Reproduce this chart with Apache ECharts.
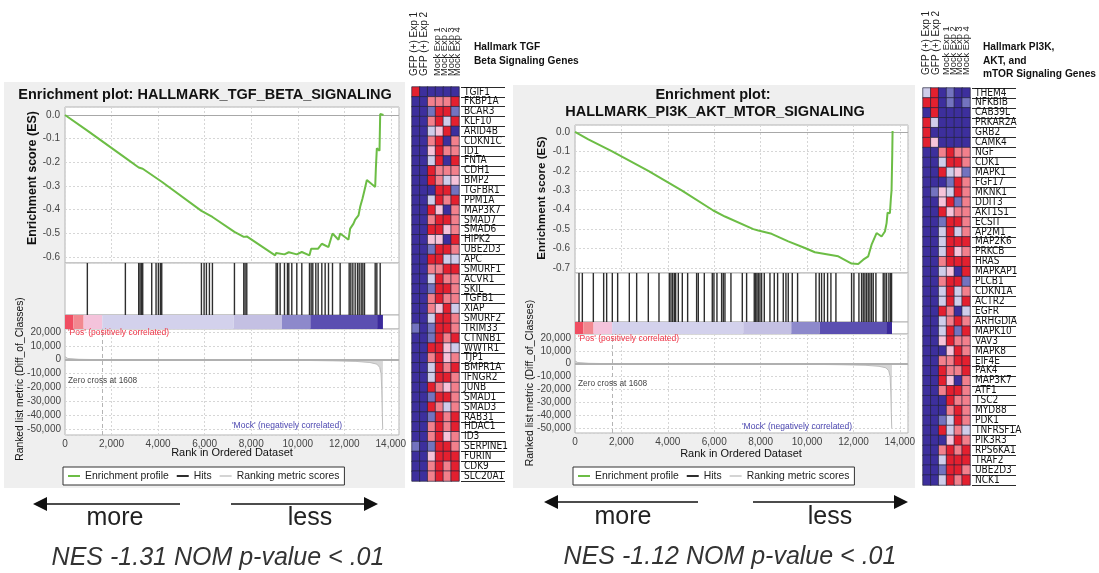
<!DOCTYPE html>
<html>
<head>
<meta charset="utf-8">
<script src="https://cdn.jsdelivr.net/npm/echarts@6.0.0/dist/echarts.min.js"></script>
<style>
html, body { margin: 0; padding: 0; background: #fff; }
#main { width: 1099px; height: 573px; }
</style>
</head>
<body>
<div id="main"></div>
<script>
// ---- data ----
const RANK_MAX = 14350
const ZERO_CROSS = 1608

// running enrichment score, TGF beta set
const esRankTgf = [0, 960, 975, 2594, 2610, 3167, 3339, 4156, 5861, 6334, 7280, 7300, 7681, 7810, 9028, 9071, 9429, 9615, 9959, 10174, 10504, 10576, 10876, 11034, 11321, 11493, 11750, 11822, 12180, 12252, 12395, 12467, 12610, 12682, 12782, 12868, 12969, 13327, 13356, 13398, 13513, 13542, 13685]
const esValTgf = [0, -0.066, -0.062, -0.181, -0.177, -0.222, -0.227, -0.282, -0.405, -0.431, -0.494, -0.488, -0.515, -0.513, -0.593, -0.583, -0.589, -0.58, -0.589, -0.579, -0.593, -0.565, -0.565, -0.544, -0.558, -0.501, -0.527, -0.501, -0.527, -0.48, -0.459, -0.442, -0.424, -0.388, -0.353, -0.318, -0.275, -0.304, -0.226, -0.141, -0.151, 0.004, 0]
const hitsTgf = [960, 2594, 3167, 3224, 3282, 3339, 3726, 3912, 4012, 4098, 4156, 5861, 5976, 6076, 6205, 6334, 7280, 7681, 7738, 7810, 9071, 9128, 9243, 9429, 9558, 9615, 9744, 9959, 10174, 10504, 10576, 10647, 10776, 10876, 11034, 11177, 11321, 11493, 11822, 12209, 12281, 12367, 12467, 12567, 12639, 12725, 12797, 12868, 13327, 13398, 13542]

// running enrichment score, PI3K/AKT/mTOR set
const esRankPi3k = [0, 574, 1580, 3159, 4595, 5959, 6462, 7683, 7898, 8472, 9190, 9908, 10339, 11344, 11919, 12206, 12421, 12637, 12780, 12996, 13211, 13283, 13355, 13427, 13470, 13570, 13613, 13642, 13671, 13685]
const esValPi3k = [0, -0.038, -0.099, -0.2, -0.3, -0.404, -0.435, -0.5, -0.507, -0.524, -0.563, -0.597, -0.619, -0.64, -0.677, -0.679, -0.657, -0.64, -0.58, -0.52, -0.538, -0.541, -0.512, -0.469, -0.415, -0.418, -0.341, -0.299, -0.119, 0.005]
const hitsPi3k = [172, 316, 790, 1235, 1364, 1608, 1838, 2341, 2657, 3159, 3619, 4064, 4136, 4207, 4279, 4337, 4452, 4624, 4854, 5241, 5313, 5572, 5916, 5988, 6117, 6318, 6390, 6462, 6720, 7209, 7395, 7725, 7783, 7840, 7898, 7970, 8042, 8157, 8401, 8587, 8731, 8975, 9090, 9190, 9363, 9592, 10382, 10526, 10626, 10741, 10885, 11028, 11244, 11919, 12019, 12235, 12350, 12421, 12493, 12565, 12637, 12709, 12780, 12852, 12967, 13283, 13355, 13427, 13527, 13599, 13642]

// ranked list metric (same ranked list for both sets)
const metricRank = [0, 120, 600, 1608, 5000, 10300, 11500, 12500, 13100, 13400, 13520, 13580, 13610, 13630, 13650, 13660]
const metricVal = [2200, 900, 300, 0, -100, -500, -800, -1200, -2000, -3200, -5500, -10000, -22000, -38000, -50000, -50000]

// correlation colour bar under the hits
const segStart = [0, 360, 800, 1600, 7250, 9320, 10540, 13410]
const segEnd = [360, 800, 1600, 7250, 9320, 10540, 13410, 13660]

// heatmaps: -3 dark blue ... 3 red
const samples = ['GFP (+) Exp 1', 'GFP (+) Exp 2', 'Mock Exp 1', 'Mock Exp 2', 'Mock Exp 3', 'Mock Exp 4']
const genesTgf = ['TGIF1', 'FKBP1A', 'BCAR3', 'KLF10', 'ARID4B', 'CDKN1C', 'ID1', 'FNTA', 'CDH1', 'BMP2', 'TGFBR1', 'PPM1A', 'MAP3K7', 'SMAD7', 'SMAD6', 'HIPK2', 'UBE2D3', 'APC', 'SMURF1', 'ACVR1', 'SKIL', 'TGFB1', 'XIAP', 'SMURF2', 'TRIM33', 'CTNNB1', 'WWTR1', 'TJP1', 'BMPR1A', 'IFNGR2', 'JUNB', 'SMAD1', 'SMAD3', 'RAB31', 'HDAC1', 'ID3', 'SERPINE1', 'FURIN', 'CDK9', 'SLC20A1']
const exprTgf = [
  [3, -3, -3, -3, -3, -3], [-3, -3, 2, 2, 2, 3], [-3, -3, -2, 3, 3, -2], [-3, -3, 2, 3, -1, 3],
  [-3, -3, -1, 1, 3, -3], [-3, -3, 2, 3, -3, 2], [-3, -3, 1, 3, 2, 2], [-3, -3, -1, 3, -3, 3],
  [-3, -3, 3, 2, 2, 2], [-3, -3, 3, 2, -1, 1], [-3, -3, -3, 3, 3, -2], [-3, -3, -1, 3, 2, 3],
  [-3, -3, 3, 1, -3, 2], [-3, -3, 2, 3, 3, 2], [-3, -3, 3, 3, 1, 2], [-3, -3, 1, 1, -3, 3],
  [-3, -3, -2, 3, 3, 2], [-3, -3, 3, 3, -1, -1], [-3, -3, 2, 2, 3, 3], [-3, -3, -1, 3, 2, 2],
  [-3, -3, -2, 3, 3, 2], [-3, -3, 2, 3, 2, 2], [-3, -3, 2, 1, 3, -1], [-3, -3, -1, 3, 3, 2],
  [-2, -3, -2, 3, 3, 2], [-3, -3, -2, 3, 2, 3], [-3, -3, 3, 3, 1, -1], [-3, -3, 2, 3, 1, 2],
  [-3, -3, -1, 3, 2, 3], [-3, -3, -1, 3, 3, 2], [-3, -3, 3, 2, 1, 2], [-3, -3, -2, 3, 3, 2],
  [-3, -3, 3, 2, -1, 2], [-3, -3, -2, 3, 2, 3], [-3, -3, 2, 3, 2, 3], [-3, -3, 2, 3, 1, 2],
  [-2, -3, -2, 3, 3, 2], [-3, -3, 1, 3, 3, 3], [-3, -3, 2, 3, 2, 3], [-3, -3, 2, 3, 2, 3]
]
const genesPi3k = ['THEM4', 'NFKBIB', 'CAB39L', 'PRKAR2A', 'GRB2', 'CAMK4', 'NGF', 'CDK1', 'MAPK1', 'FGF17', 'MKNK1', 'DDIT3', 'AKT1S1', 'ECSIT', 'AP2M1', 'MAP2K6', 'PRKCB', 'HRAS', 'MAPKAP1', 'PLCB1', 'CDKN1A', 'ACTR2', 'EGFR', 'ARHGDIA', 'MAPK10', 'VAV3', 'MAPK8', 'EIF4E', 'PAK4', 'MAP3K7', 'ATF1', 'TSC2', 'MYD88', 'PDK1', 'TNFRSF1A', 'PIK3R3', 'RPS6KA1', 'TRAF2', 'UBE2D3', 'NCK1']
const exprPi3k = [
  [-1, 3, -3, -2, -3, -3], [3, 3, -3, -2, -3, -2], [-3, 3, -3, -3, -3, -3], [3, -1, -3, -3, -3, -3],
  [3, -3, -3, -3, -3, -3], [3, 1, -3, -3, -3, -3], [-3, -3, 2, 3, 2, 2], [-3, -3, -1, 3, 3, 2],
  [-3, -3, 3, -1, 1, -2], [-3, -3, -3, -2, 3, 2], [-3, -2, 1, -1, 3, 2], [-3, -3, 1, 3, -2, 2],
  [-3, -3, 3, 1, 2, 2], [-3, -3, -2, 3, 3, 2], [-3, -3, -1, 3, -1, 2], [-3, -3, -1, 3, 3, 3],
  [-3, -3, -1, 3, 1, 2], [-3, -3, 2, 3, 3, 3], [-3, -3, -1, 1, -3, 3], [-3, -3, 2, 3, 3, -2],
  [-3, -3, -1, 3, -1, 2], [-3, -3, -1, 3, -1, 3], [-3, -3, 3, 2, -3, -1], [-3, -3, -1, 2, 3, 2],
  [-3, -3, -1, 3, -2, 3], [-3, -3, 1, 3, 2, 2], [-3, -3, -3, 1, 3, 2], [-3, -3, 2, 2, 3, 3],
  [-3, -3, 3, 2, 2, 3], [-3, -3, 3, 1, -3, 2], [-3, -3, 2, 3, 3, 2], [-3, -3, -3, 3, 2, 2],
  [-3, -3, -3, 2, 3, 2], [-3, -3, -2, -1, 3, 2], [-3, -3, 3, -1, 2, -1], [-3, -3, -3, 1, 3, 2],
  [-3, -3, 2, 3, 2, 3], [-3, -3, -1, 3, 3, 3], [-3, -3, -2, 3, 3, 2], [-3, -3, -1, 3, 2, 3]
]
const exprLevels = [-3, -2, -1, 1, 2, 3]

// ---- styles ----
const FONT = "'Liberation Sans', Arial, sans-serif"
const GENE_FONT = "'DejaVu Sans Condensed', 'Liberation Sans Narrow', 'Liberation Sans', sans-serif"
const segColors = ['#f04e62', '#f28890', '#f4c3db', '#d3d1ec', '#c4c0e3', '#8d89cb', '#5b4fb1', '#3b2a9b']
const levelColors = ['#3d2f9d', '#7373bf', '#cfcdea', '#f6c3d9', '#f2808c', '#e3202f']
const GREEN = '#6cbd45'
const dash = { color: '#d6d6d6', type: [2, 2], width: 1 }
const axisText = { fontFamily: FONT, fontSize: 10, color: '#444' }
const thousands = (v) => Math.round(v).toLocaleString('en-US')

const zip = (a, b) => a.map((x, i) => [x, b[i]])

const panels = [
  {
    left: 65, width: 334, esTop: 107, esH: 156, hitsH: 52, barH: 14, metH: 106,
    esMin: -0.6254, esMax: 0.0338, metMin: -54330, metMax: 22165,
    esRank: esRankTgf, esVal: esValTgf, hits: hitsTgf, legendLeft: 63, legendTop: 467
  },
  {
    left: 575, width: 333, esTop: 125, esH: 148, hitsH: 49, barH: 12, metH: 99,
    esMin: -0.7257, esMax: 0.036, metMin: -53890, metMax: 23110,
    esRank: esRankPi3k, esVal: esValPi3k, hits: hitsPi3k, legendLeft: 573, legendTop: 467
  }
]

// header label offsets (px from the heatmap's left edge) as laid out in the figure
const heatmaps = [
  { left: 412, top: 87, height: 394, genes: genesTgf, expr: exprTgf, headX: [2, 12, 25, 32, 39, 45], headY: 76 },
  { left: 923, top: 88, height: 397, genes: genesPi3k, expr: exprPi3k, headX: [3, 13, 23, 30, 36, 43], headY: 75 }
]

const grids = []
const xAxes = []
const yAxes = []
const series = []
const legends = []
const heatIdx = []

panels.forEach((p) => {
  const g = grids.length
  const tops = [p.esTop, p.esTop + p.esH, p.esTop + p.esH + p.hitsH, p.esTop + p.esH + p.hitsH + p.barH]
  const heights = [p.esH, p.hitsH, p.barH, p.metH]
  tops.forEach((t, i) => {
    grids.push({
      left: p.left, top: t, width: p.width, height: heights[i],
      show: true, backgroundColor: '#fff', borderColor: '#b4b4b4', borderWidth: 1
    })
    xAxes.push({
      type: 'value', gridIndex: g + i, min: 0, max: RANK_MAX, interval: 2000,
      axisLine: { show: false }, axisTick: { show: false },
      axisLabel: { show: i === 3, ...axisText, margin: 4, showMaxLabel: false, formatter: thousands },
      splitLine: { show: i === 0 || i === 3, lineStyle: dash }
    })
  })
  yAxes.push({
    type: 'value', gridIndex: g, min: p.esMin, max: p.esMax, splitNumber: 7,
    axisLine: { show: false }, axisTick: { show: false },
    axisLabel: { ...axisText, margin: 5, showMinLabel: false, showMaxLabel: false, formatter: (v) => v.toFixed(1) },
    splitLine: { lineStyle: dash }
  })
  yAxes.push({ type: 'value', gridIndex: g + 1, min: 0, max: 1, show: false })
  yAxes.push({ type: 'value', gridIndex: g + 2, min: 0, max: 1, show: false })
  yAxes.push({
    type: 'value', gridIndex: g + 3, min: p.metMin, max: p.metMax, splitNumber: 7,
    axisLine: { show: false }, axisTick: { show: false },
    axisLabel: { ...axisText, margin: 4, showMinLabel: false, showMaxLabel: false, formatter: thousands },
    splitLine: { lineStyle: dash }
  })

  series.push({
    type: 'line', name: 'Enrichment profile', xAxisIndex: g, yAxisIndex: g,
    data: zip(p.esRank, p.esVal), symbol: 'none', clip: false, z: 5,
    itemStyle: { color: GREEN }, lineStyle: { color: GREEN, width: 2 },
    markLine: {
      silent: true, symbol: 'none', label: { show: false },
      lineStyle: { color: '#a8a8a8', type: 'solid', width: 1 },
      data: [{ yAxis: 0 }]
    }
  })
  series.push({
    type: 'bar', name: 'Hits', xAxisIndex: g + 1, yAxisIndex: g + 1,
    data: p.hits.map((r) => [r, 1]), barWidth: 1.4, itemStyle: { color: '#2e2e2e' }
  })
  series.push({
    type: 'custom', name: 'colour bar', xAxisIndex: g + 2, yAxisIndex: g + 2, silent: true,
    data: segStart.map((s, i) => [s, segEnd[i], i]),
    encode: { x: [0, 1] },
    renderItem: (params, api) => {
      const a = api.coord([api.value(0), 1])
      const b = api.coord([api.value(1), 0])
      return {
        type: 'rect',
        shape: { x: a[0], y: a[1], width: b[0] - a[0], height: b[1] - a[1] },
        style: { fill: segColors[api.value(2)] }
      }
    }
  })
  series.push({
    type: 'line', name: 'Ranking metric scores', xAxisIndex: g + 3, yAxisIndex: g + 3,
    data: zip(metricRank, metricVal), symbol: 'none',
    itemStyle: { color: '#d4d4d4' }, lineStyle: { color: '#bdbdbd', width: 1 },
    areaStyle: { color: '#c6c6c6', origin: 0 },
    markLine: {
      silent: true, symbol: 'none', label: { show: false },
      data: [
        { yAxis: 0, lineStyle: { color: '#b0b0b0', type: 'solid', width: 2 } },
        { xAxis: ZERO_CROSS, lineStyle: { color: '#b4b4b4', type: [4, 3], width: 1 } }
      ]
    }
  })

  legends.push({
    left: p.legendLeft, top: p.legendTop,
    data: ['Enrichment profile', 'Hits', 'Ranking metric scores'],
    icon: 'rect', itemWidth: 12, itemHeight: 2, itemGap: 8, padding: [4, 5],
    borderColor: '#333', borderWidth: 1, backgroundColor: '#fff', selectedMode: false,
    textStyle: { fontFamily: FONT, fontSize: 10.4, color: '#222' }
  })
})

heatmaps.forEach((h) => {
  const g = grids.length
  grids.push({ left: h.left, top: h.top, width: 47, height: h.height })
  grids.push({ left: h.left + 49, top: h.top, width: 44, height: h.height })
  xAxes.push({
    type: 'category', gridIndex: g, position: 'top', data: samples,
    axisLine: { show: false }, axisTick: { show: false }, splitLine: { show: false },
    axisLabel: { show: false }
  })
  xAxes.push({ type: 'value', gridIndex: g + 1, min: 0, max: 1, show: false })
  yAxes.push({ type: 'category', gridIndex: g, data: h.genes, inverse: true, show: false })
  yAxes.push({
    type: 'category', gridIndex: g + 1, data: h.genes, inverse: true,
    axisLine: { show: false }, axisTick: { show: false, interval: 0 },
    axisLabel: { inside: true, interval: 0, margin: 3, fontFamily: GENE_FONT, fontSize: 10, color: '#111' },
    splitLine: { show: true, interval: 0, lineStyle: { color: '#2a2a2a', width: 1 } }
  })
  const cells = []
  h.expr.forEach((row, r) => row.forEach((v, c) => cells.push([c, r, v])))
  heatIdx.push(series.length)
  series.push({
    type: 'heatmap', xAxisIndex: g, yAxisIndex: g, data: cells,
    itemStyle: { borderColor: '#24243c', borderWidth: 0.7 }
  })
})

// ---- text and decorations ----
const txt = (text, x, y, o = {}) => ({
  type: 'text', x, y, z: 100, rotation: o.rot || 0,
  style: {
    text, fill: o.color || '#111', fontFamily: FONT, fontSize: o.size || 10,
    fontWeight: o.bold ? 'bold' : 'normal', fontStyle: o.italic ? 'italic' : 'normal',
    align: o.align || 'center', verticalAlign: 'middle'
  }
})
const arrow = (x1, x2, y) => {
  const dir = x2 < x1 ? -1 : 1
  return [
    { type: 'line', z: 100, shape: { x1, y1: y, x2: x2 - dir * 10, y2: y }, style: { stroke: '#111', lineWidth: 1.5 } },
    { type: 'polygon', z: 100, shape: { points: [[x2, y], [x2 - dir * 14, y - 7], [x2 - dir * 14, y + 7]] }, style: { fill: '#111' } }
  ]
}
const V = Math.PI / 2

// vertical sample names above each heatmap column
const headerTexts = []
heatmaps.forEach((h) => {
  samples.forEach((s, i) => {
    headerTexts.push(txt(s, h.left + h.headX[i], h.headY, { size: i < 2 ? 10 : 9.3, rot: V, align: 'left', color: '#222' }))
  })
})

const graphic = [
  { type: 'rect', z: -100, shape: { x: 4, y: 82, width: 401, height: 406 }, style: { fill: '#efefef' } },
  { type: 'rect', z: -100, shape: { x: 513, y: 85, width: 402, height: 403 }, style: { fill: '#efefef' } },

  txt('Enrichment plot: HALLMARK_TGF_BETA_SIGNALING', 205, 95, { size: 14.5, bold: true }),
  txt('Enrichment score (ES)', 33, 178, { size: 12.5, bold: true, rot: V }),
  txt('Ranked list metric (Diff_of_Classes)', 20, 379, { size: 10.3, rot: V }),
  txt('Rank in Ordered Dataset', 232, 453, { size: 11 }),
  txt("'Pos' (positively correlated)", 68, 333, { size: 8.5, color: '#ee3346', align: 'left' }),
  txt('Zero cross at 1608', 68, 381, { size: 8.3, color: '#444', align: 'left' }),
  txt("'Mock' (negatively correlated)", 232, 426, { size: 8.5, color: '#4b46b0', align: 'left' }),

  txt('Enrichment plot:', 713, 95, { size: 14.5, bold: true }),
  txt('HALLMARK_PI3K_AKT_MTOR_SIGNALING', 715, 112, { size: 14.5, bold: true }),
  txt('Enrichment score (ES)', 542, 198, { size: 11.5, bold: true, rot: V }),
  txt('Ranked list metric (Diff_of_Classes)', 530, 383, { size: 10.5, rot: V }),
  txt('Rank in Ordered Dataset', 741, 454, { size: 11 }),
  txt("'Pos' (positively correlated)", 578, 339, { size: 8.5, color: '#ee3346', align: 'left' }),
  txt('Zero cross at 1608', 578, 384, { size: 8.3, color: '#444', align: 'left' }),
  txt("'Mock' (negatively correlated)", 742, 427, { size: 8.5, color: '#4b46b0', align: 'left' }),

  ...headerTexts,
  txt('Hallmark TGF', 474, 47, { size: 10.2, bold: true, align: 'left' }),
  txt('Beta Signaling Genes', 474, 61, { size: 10.2, bold: true, align: 'left' }),
  txt('Hallmark PI3K,', 983, 47, { size: 10.2, bold: true, align: 'left' }),
  txt('AKT, and', 983, 61, { size: 10.2, bold: true, align: 'left' }),
  txt('mTOR Signaling Genes', 983, 74, { size: 10.2, bold: true, align: 'left' }),

  ...arrow(180, 33, 504),
  ...arrow(231, 378, 504),
  txt('more', 115, 518, { size: 25, color: '#222' }),
  txt('less', 310, 518, { size: 25, color: '#222' }),
  txt('NES -1.31 NOM p-value < .01', 218, 558, { size: 25, italic: true, color: '#333' }),

  ...arrow(698, 544, 502),
  ...arrow(753, 908, 502),
  txt('more', 623, 517, { size: 25, color: '#222' }),
  txt('less', 830, 517, { size: 25, color: '#222' }),
  txt('NES -1.12 NOM p-value < .01', 730, 557, { size: 25, italic: true, color: '#333' })
]

const chart = echarts.init(document.getElementById('main'), null, { renderer: 'canvas' })
chart.setOption({
  animation: false,
  textStyle: { fontFamily: FONT },
  grid: grids,
  xAxis: xAxes,
  yAxis: yAxes,
  legend: legends,
  visualMap: {
    type: 'piecewise', show: false, seriesIndex: heatIdx, dimension: 2,
    pieces: exprLevels.map((v, i) => ({ value: v, color: levelColors[i] }))
  },
  graphic: graphic,
  series: series
})
window.addEventListener('resize', () => chart.resize())
</script>
</body>
</html>
